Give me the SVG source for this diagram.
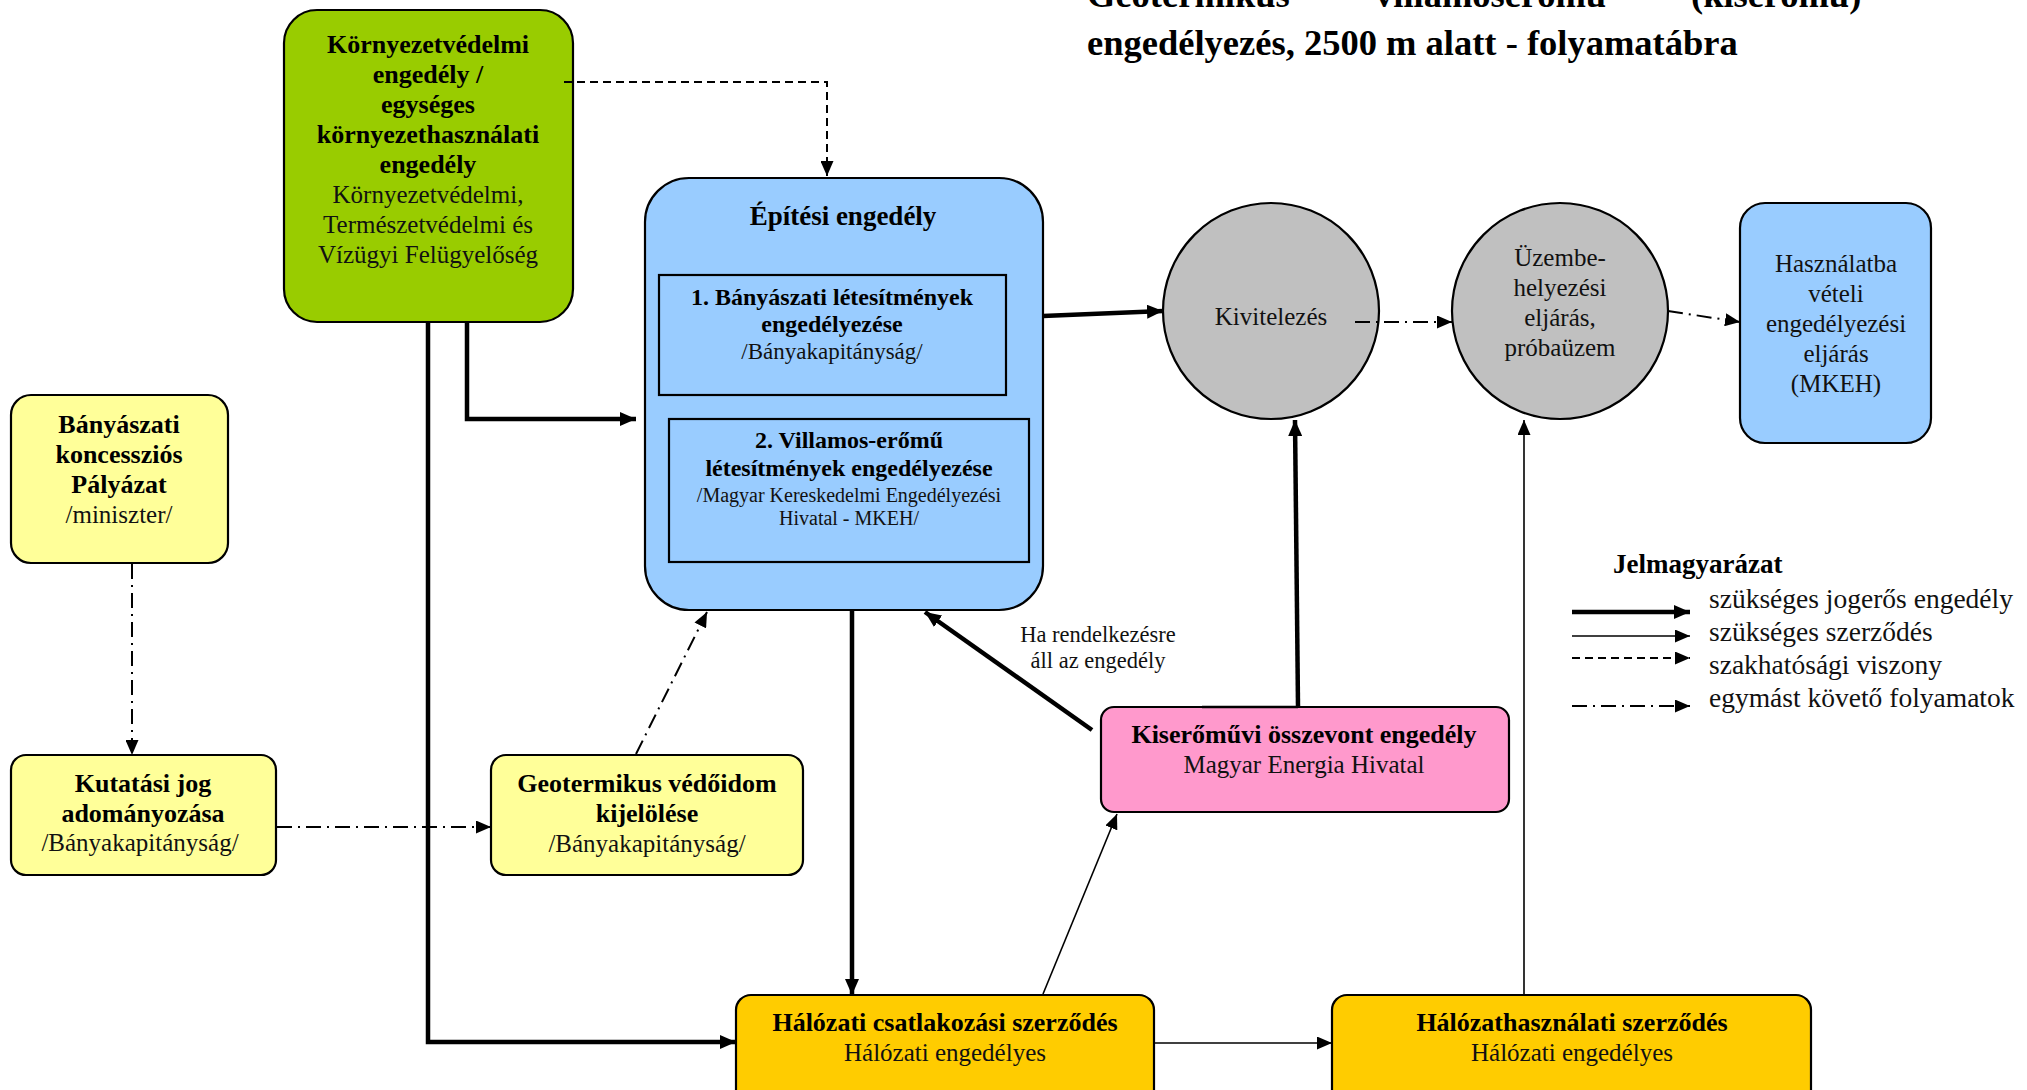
<svg xmlns="http://www.w3.org/2000/svg" width="2027" height="1090" viewBox="0 0 2027 1090">
<style>
text{font-family:"Liberation Serif","Times New Roman",serif;fill:#111;}
.b{font-weight:bold;font-size:26px;text-anchor:middle;fill:#000;}
.r{font-size:25px;text-anchor:middle;}
.s{font-size:20px;text-anchor:middle;}
.box{stroke:#000;stroke-width:2.2;}
.thick{stroke:#000;stroke-width:4.5;fill:none;}
.thin{stroke:#000;stroke-width:1.6;fill:none;}
.dash{stroke:#000;stroke-width:2;fill:none;stroke-dasharray:8 5;}
.dd{stroke:#000;stroke-width:2;fill:none;stroke-dasharray:15 6 2 6;}
.lg{font-size:27.5px;}
.t{font-size:36.5px;font-weight:bold;fill:#000;}
</style>
<defs>
<marker id="ah" viewBox="0 0 16 14" refX="16" refY="7" markerWidth="16" markerHeight="14" markerUnits="userSpaceOnUse" orient="auto"><path d="M0,0 L16,7 L0,14 Z" fill="#000"/></marker>
<marker id="ahs" viewBox="0 0 15 13" refX="15" refY="6.5" markerWidth="15" markerHeight="13" markerUnits="userSpaceOnUse" orient="auto"><path d="M0,0 L15,6.5 L0,13 Z" fill="#000"/></marker>
</defs>
<rect width="2027" height="1090" fill="#fff"/>

<g id="title">
<text class="t" x="1087" y="7">Geotermikus</text>
<text class="t" x="1375" y="7">villamoserőmű</text>
<text class="t" x="1691" y="7">(kiserőmű)</text>
<text class="t" x="1087" y="55">engedélyezés, 2500 m alatt - folyamatábra</text>
</g>

<g id="kornyezet">
<rect class="box" x="284" y="10" width="289" height="312" rx="33" fill="#99CC00"/>
<text class="b" x="428" y="53">Környezetvédelmi</text>
<text class="b" x="428" y="83">engedély /</text>
<text class="b" x="428" y="113">egységes</text>
<text class="b" x="428" y="143">környezethasználati</text>
<text class="b" x="428" y="173">engedély</text>
<text class="r" x="428" y="203">Környezetvédelmi,</text>
<text class="r" x="428" y="233">Természetvédelmi és</text>
<text class="r" x="428" y="263">Vízügyi Felügyelőség</text>
</g>

<g id="epitesi">
<rect class="box" x="645" y="178" width="398" height="432" rx="44" fill="#99CCFF"/>
<text class="b" x="843" y="225" style="font-size:27px">Építési engedély</text>
<rect class="box" x="659" y="275" width="347" height="120" fill="#99CCFF"/>
<text class="b" x="832" y="305" style="font-size:24px">1. Bányászati létesítmények</text>
<text class="b" x="832" y="332" style="font-size:24px">engedélyezése</text>
<text class="r" x="832" y="359" style="font-size:23px">/Bányakapitányság/</text>
<rect class="box" x="669" y="419" width="360" height="143" fill="#99CCFF"/>
<text class="b" x="849" y="448" style="font-size:24px">2. Villamos-erőmű</text>
<text class="b" x="849" y="476" style="font-size:24px">létesítmények engedélyezése</text>
<text class="s" x="849" y="502">/Magyar Kereskedelmi Engedélyezési</text>
<text class="s" x="849" y="525">Hivatal - MKEH/</text>
</g>

<g id="kivitelezes">
<circle class="box" cx="1271" cy="311" r="108" fill="#C0C0C0"/>
<text class="r" x="1271" y="325">Kivitelezés</text>
</g>

<g id="uzembe">
<circle class="box" cx="1560" cy="311" r="108" fill="#C0C0C0"/>
<text class="r" x="1560" y="266">Üzembe-</text>
<text class="r" x="1560" y="296">helyezési</text>
<text class="r" x="1560" y="326">eljárás,</text>
<text class="r" x="1560" y="356">próbaüzem</text>
</g>

<g id="hasznalatba">
<rect class="box" x="1740" y="203" width="191" height="240" rx="25" fill="#99CCFF"/>
<text class="r" x="1836" y="272">Használatba</text>
<text class="r" x="1836" y="302">vételi</text>
<text class="r" x="1836" y="332">engedélyezési</text>
<text class="r" x="1836" y="362">eljárás</text>
<text class="r" x="1836" y="392">(MKEH)</text>
</g>

<g id="banyaszati">
<rect class="box" x="11" y="395" width="217" height="168" rx="20" fill="#FFFF99"/>
<text class="b" x="119" y="433">Bányászati</text>
<text class="b" x="119" y="463">koncessziós</text>
<text class="b" x="119" y="493">Pályázat</text>
<text class="r" x="119" y="523">/miniszter/</text>
</g>

<g id="kutatasi">
<rect class="box" x="11" y="755" width="265" height="120" rx="15" fill="#FFFF99"/>
<text class="b" x="143" y="792">Kutatási jog</text>
<text class="b" x="143" y="822">adományozása</text>
<text class="r" x="140" y="851">/Bányakapitányság/</text>
</g>

<g id="vedoidom">
<rect class="box" x="491" y="755" width="312" height="120" rx="15" fill="#FFFF99"/>
<text class="b" x="647" y="792">Geotermikus védőidom</text>
<text class="b" x="647" y="822">kijelölése</text>
<text class="r" x="647" y="852">/Bányakapitányság/</text>
</g>

<g id="kiseromuvi">
<rect class="box" x="1101" y="707" width="408" height="105" rx="13" fill="#FF99CC"/>
<text class="b" x="1304" y="743">Kiserőművi összevont engedély</text>
<text class="r" x="1304" y="773">Magyar Energia Hivatal</text>
</g>

<g id="ha-label">
<text x="1098" y="642" style="font-size:22.5px;text-anchor:middle">Ha rendelkezésre</text>
<text x="1098" y="668" style="font-size:22.5px;text-anchor:middle">áll az engedély</text>
</g>

<g id="csatlakozasi">
<rect class="box" x="736" y="995" width="418" height="110" rx="15" fill="#FFCC00"/>
<text class="b" x="945" y="1031">Hálózati csatlakozási szerződés</text>
<text class="r" x="945" y="1061">Hálózati engedélyes</text>
</g>

<g id="halozathasznalati">
<rect class="box" x="1332" y="995" width="479" height="110" rx="15" fill="#FFCC00"/>
<text class="b" x="1572" y="1031">Hálózathasználati szerződés</text>
<text class="r" x="1572" y="1061">Hálózati engedélyes</text>
</g>

<g id="connectors">
<path class="dash" d="M564,82 H827 V176" marker-end="url(#ahs)"/>
<path class="thick" d="M467,323 V419 H636" marker-end="url(#ah)"/>
<path class="thick" d="M428,323 V1042 H736" marker-end="url(#ah)"/>
<path class="thick" d="M852,611 V995" marker-end="url(#ah)"/>
<path class="thick" d="M1043,316 L1163,311" marker-end="url(#ah)"/>
<path class="dd" d="M1355,322 H1452" marker-end="url(#ahs)"/>
<path class="dd" d="M1668,311 L1740,322" marker-end="url(#ahs)"/>
<path class="thick" d="M1298,706 L1295,420" marker-end="url(#ah)"/>
<path class="thin" d="M1202,707 H1298" style="stroke-width:2.5"/>
<path class="thin" d="M1524,994 V420" marker-end="url(#ahs)"/>
<path class="thick" d="M1092,730 L925,612" marker-end="url(#ah)"/>
<path class="thin" d="M1043,994 L1117,814" marker-end="url(#ahs)"/>
<path class="thin" d="M1155,1043 H1332" marker-end="url(#ahs)"/>
<path class="dd" d="M132,564 V755" marker-end="url(#ahs)"/>
<path class="dd" d="M277,827 H491" marker-end="url(#ahs)"/>
<path class="dd" d="M636,754 L707,612" marker-end="url(#ahs)"/>
</g>

<g id="legend">
<text x="1613" y="573" style="font-size:27px;font-weight:bold;fill:#000">Jelmagyarázat</text>
<path class="thick" d="M1572,612 H1690" marker-end="url(#ah)"/>
<path class="thin" d="M1572,636 H1690" marker-end="url(#ahs)"/>
<path class="dash" d="M1572,658 H1690" marker-end="url(#ahs)"/>
<path class="dd" d="M1572,706 H1690" marker-end="url(#ahs)"/>
<text class="lg" x="1709" y="608">szükséges jogerős engedély</text>
<text class="lg" x="1709" y="641">szükséges szerződés</text>
<text class="lg" x="1709" y="674">szakhatósági viszony</text>
<text class="lg" x="1709" y="707">egymást követő folyamatok</text>
</g>
</svg>
